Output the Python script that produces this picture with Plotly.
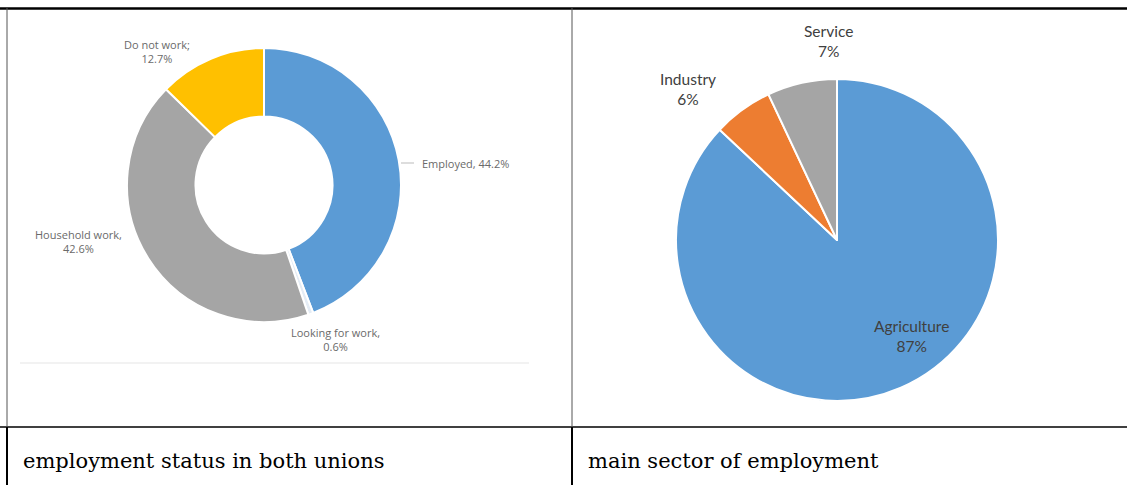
import plotly.graph_objects as go

W, H = 1127, 485

# Data
status_labels = ["Employed", "Looking for work", "Household work", "Do not work"]
status_values = [44.2, 0.6, 42.6, 12.7]
status_colors = ["#5B9BD5", "#E4ECF5", "#A5A5A5", "#FFC000"]

sector_labels = ["Agriculture", "Industry", "Service"]
sector_values = [87, 6, 7]
sector_colors = ["#5B9BD5", "#ED7D31", "#A5A5A5"]

captions = ["employment status in both unions", "main sector of employment"]


def px(x):
    return x / W


def py(y):
    return 1 - y / H


def dom(cx, cy, r):
    return dict(x=[px(cx - r), px(cx + r)], y=[py(cy + r), py(cy - r)])


fig = go.Figure()
fig.add_trace(go.Pie(
    labels=status_labels, values=status_values, sort=False, direction="clockwise",
    rotation=0, hole=0.5, textinfo="none", showlegend=False,
    marker=dict(colors=status_colors, line=dict(color="white", width=2)),
    domain=dom(264, 185, 137),
))
fig.add_trace(go.Pie(
    labels=sector_labels, values=sector_values, sort=False, direction="clockwise",
    rotation=0, textinfo="none", showlegend=False,
    marker=dict(colors=sector_colors, line=dict(color="white", width=2)),
    domain=dom(837, 240, 161),
))

ann = []
lab_font = dict(family="Open Sans", size=11, color="#6a6a6a")
status_pos = [(465, 163, "{l}, {v}%"), (335, 339, "{l},<br>{v}%"),
              (78, 241, "{l},<br>{v}%"), (157, 52, "{l};<br>{v}%")]
for lab, val, (x, y, fmt) in zip(status_labels, status_values, status_pos):
    ann.append(dict(x=px(x), y=py(y), xref="paper", yref="paper", showarrow=False,
                    xanchor="center", yanchor="middle",
                    text=fmt.format(l=lab, v=val), font=lab_font, align="center"))

sec_font = dict(family="Lato", size=15.5, color="#404040")
sector_pos = [(911, 336), (688, 89), (828, 41)]
for lab, val, (x, y) in zip(sector_labels, sector_values, sector_pos):
    ann.append(dict(x=px(x), y=py(y), xref="paper", yref="paper", showarrow=False,
                    xanchor="center", yanchor="middle",
                    text=f"{lab}<br>{val}%", font=sec_font, align="center"))

cap_font = dict(family="DejaVu Serif", size=21, color="#000000")
for cap, x in zip(captions, [21, 586]):
    ann.append(dict(x=px(x), y=py(461), xref="paper", yref="paper", showarrow=False,
                    xanchor="left", yanchor="middle", text=cap, font=cap_font))

shapes = []


def line(x0, y0, x1, y1, color="black", width=1.5):
    shapes.append(dict(type="line", xref="paper", yref="paper",
                       x0=px(x0), y0=py(y0), x1=px(x1), y1=py(y1),
                       line=dict(color=color, width=width)))


line(0, 8.5, W, 8.5, width=2.5)          # top border
line(0, 427, W, 427, width=1.5)          # row divider
line(7, 8, 7, 427, color="#555555", width=1)
line(7, 427, 7, H, width=2)
line(572, 8, 572, 427, color="#555555", width=1)
line(572, 427, 572, H, width=2)
line(20, 363, 529, 363, color="#e6e6e6", width=1.2)   # chart baseline
line(401, 163, 414, 163, color="#bbbbbb", width=1)    # leader line

fig.update_layout(width=W, height=H, margin=dict(l=0, r=0, t=0, b=0),
                  paper_bgcolor="white", plot_bgcolor="white",
                  annotations=ann, shapes=shapes)
fig.write_html("out.html", config={"displayModeBar": False},
               post_script="document.body.style.margin='0';document.body.style.overflow='hidden';")
